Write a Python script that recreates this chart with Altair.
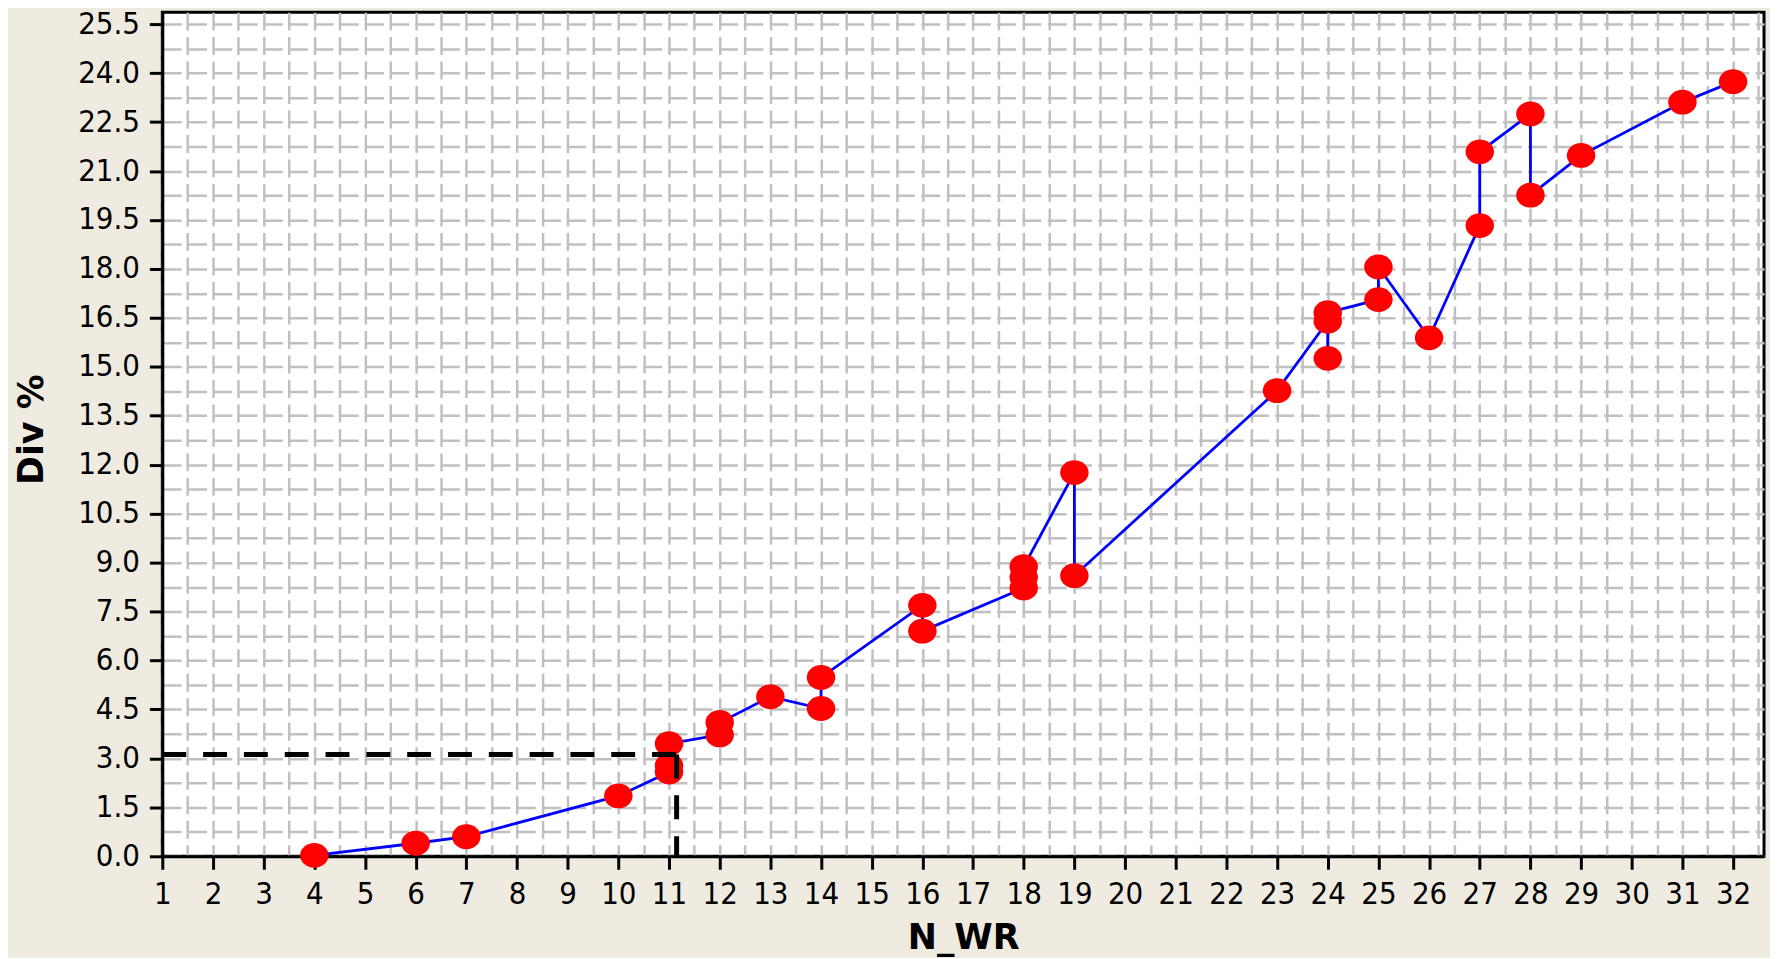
import altair as alt
import pandas as pd

# ---- data ----
n_wr = [4, 6, 7, 10, 11, 11, 11, 12, 12, 13, 14, 14, 16, 16, 18, 18, 18, 19, 19,
        23, 24, 24, 24, 25, 25, 26, 27, 27, 28, 28, 29, 31, 32]
div_pct = [0.03, 0.40, 0.60, 1.85, 2.58, 2.78, 3.45, 3.72, 4.10, 4.89, 4.53, 5.48,
           7.69, 6.90, 8.22, 8.55, 8.88, 11.76, 8.60, 14.27, 16.40, 15.26, 16.66,
           17.06, 18.06, 15.89, 19.33, 21.59, 22.75, 20.26, 21.48, 23.11, 23.74]

# dashed reference lines
ref_start_x = [1]
ref_x = [11.15]
ref_y = [3.12]
ref_zero = [0]

# axis tick / grid values
x_grid_values = [1 + 0.5 * i for i in range(64)]      # 1 .. 32.5
y_grid_values = [0.75 * i for i in range(35)]         # 0 .. 25.5

df = pd.DataFrame({"N_WR": n_wr, "Div": div_pct, "order": list(range(len(n_wr)))})

x_scale = alt.Scale(domain=[1, 32.61], nice=False, zero=False)
y_scale = alt.Scale(domain=[0, 25.87], nice=False, zero=False)

label_font = "Liberation Sans Narrow, DejaVu Sans Condensed, Liberation Sans, sans-serif"

x_axis = alt.Axis(
    title="N_WR",
    values=x_grid_values,
    tickCount=200,
    labelExpr="datum.value % 1 == 0 ? format(datum.value, 'd') : ''",
    tickOpacity={"condition": {"test": "datum.value % 1 != 0", "value": 0}, "value": 1},
    grid=True,
    gridDash=[18, 6.6],
    labelFlush=False,
    labelOverlap=False,
    labelPadding=10,
    titleY=93,
    titleBaseline="alphabetic",
)

y_axis = alt.Axis(
    title="Div %",
    values=y_grid_values,
    tickCount=200,
    labelExpr="abs(datum.value / 1.5 - round(datum.value / 1.5)) < 0.01 ? format(datum.value, '.1f') : ''",
    tickOpacity={"condition": {"test": "abs(datum.value / 1.5 - round(datum.value / 1.5)) > 0.01", "value": 0}, "value": 1},
    grid=True,
    gridDash=[19, 6.4],
    labelFlush=False,
    labelOverlap=False,
    labelPadding=10,
    titleX=-120,
    titleY=419,
    titleBaseline="alphabetic",
)

line = alt.Chart(df).mark_line(color="#0000ff", strokeWidth=2.8).encode(
    x=alt.X("N_WR:Q", scale=x_scale, axis=x_axis),
    y=alt.Y("Div:Q", scale=y_scale, axis=y_axis),
    order="order:Q",
)

ellipse = "M-1,0A1,0.87,0,1,0,1,0A1,0.87,0,1,0,-1,0Z"
points = alt.Chart(df).mark_point(
    shape=ellipse, filled=True, color="#ff0000", opacity=1, size=820
).encode(
    x=alt.X("N_WR:Q", scale=x_scale, title="N_WR"),
    y=alt.Y("Div:Q", scale=y_scale, title="Div %"),
)

h_df = pd.DataFrame({"xs": ref_start_x, "xe": ref_x, "y": ref_y})
h_rule = alt.Chart(h_df).mark_rule(color="black", strokeWidth=5, strokeDash=[24, 17]).encode(
    x=alt.X("xs:Q", scale=x_scale, title="N_WR"),
    x2="xe:Q",
    y=alt.Y("y:Q", scale=y_scale, title="Div %"),
)

v_df = pd.DataFrame({"x": ref_x, "ys": ref_y, "ye": ref_zero})
v_rule = alt.Chart(v_df).mark_rule(color="black", strokeWidth=5, strokeDash=[24, 17]).encode(
    x=alt.X("x:Q", scale=x_scale, title="N_WR"),
    y=alt.Y("ys:Q", scale=y_scale, title="Div %"),
    y2="ye:Q",
)

chart = alt.layer(line, points, h_rule, v_rule).properties(
    width=1609,
    height=848,
    padding={"left": 155, "top": 2, "right": 6, "bottom": 100},
    autosize=alt.AutoSizeParams(type="none"),
    background="#efebe1",
).configure_view(
    fill="white", stroke="black", strokeWidth=3
).configure_axis(
    domainColor="black", domainWidth=3,
    tickColor="black", tickWidth=3, tickSize=13,
    labelFont=label_font, labelFontSize=31, labelColor="black",
    titleFont="DejaVu Sans", titleFontSize=35, titleFontWeight="bold", titleColor="black",
    gridColor="#c0c0c0", gridWidth=2.5, gridOpacity=1,
)

chart.save("out.html", embed_options={"renderer": "svg", "actions": False})
